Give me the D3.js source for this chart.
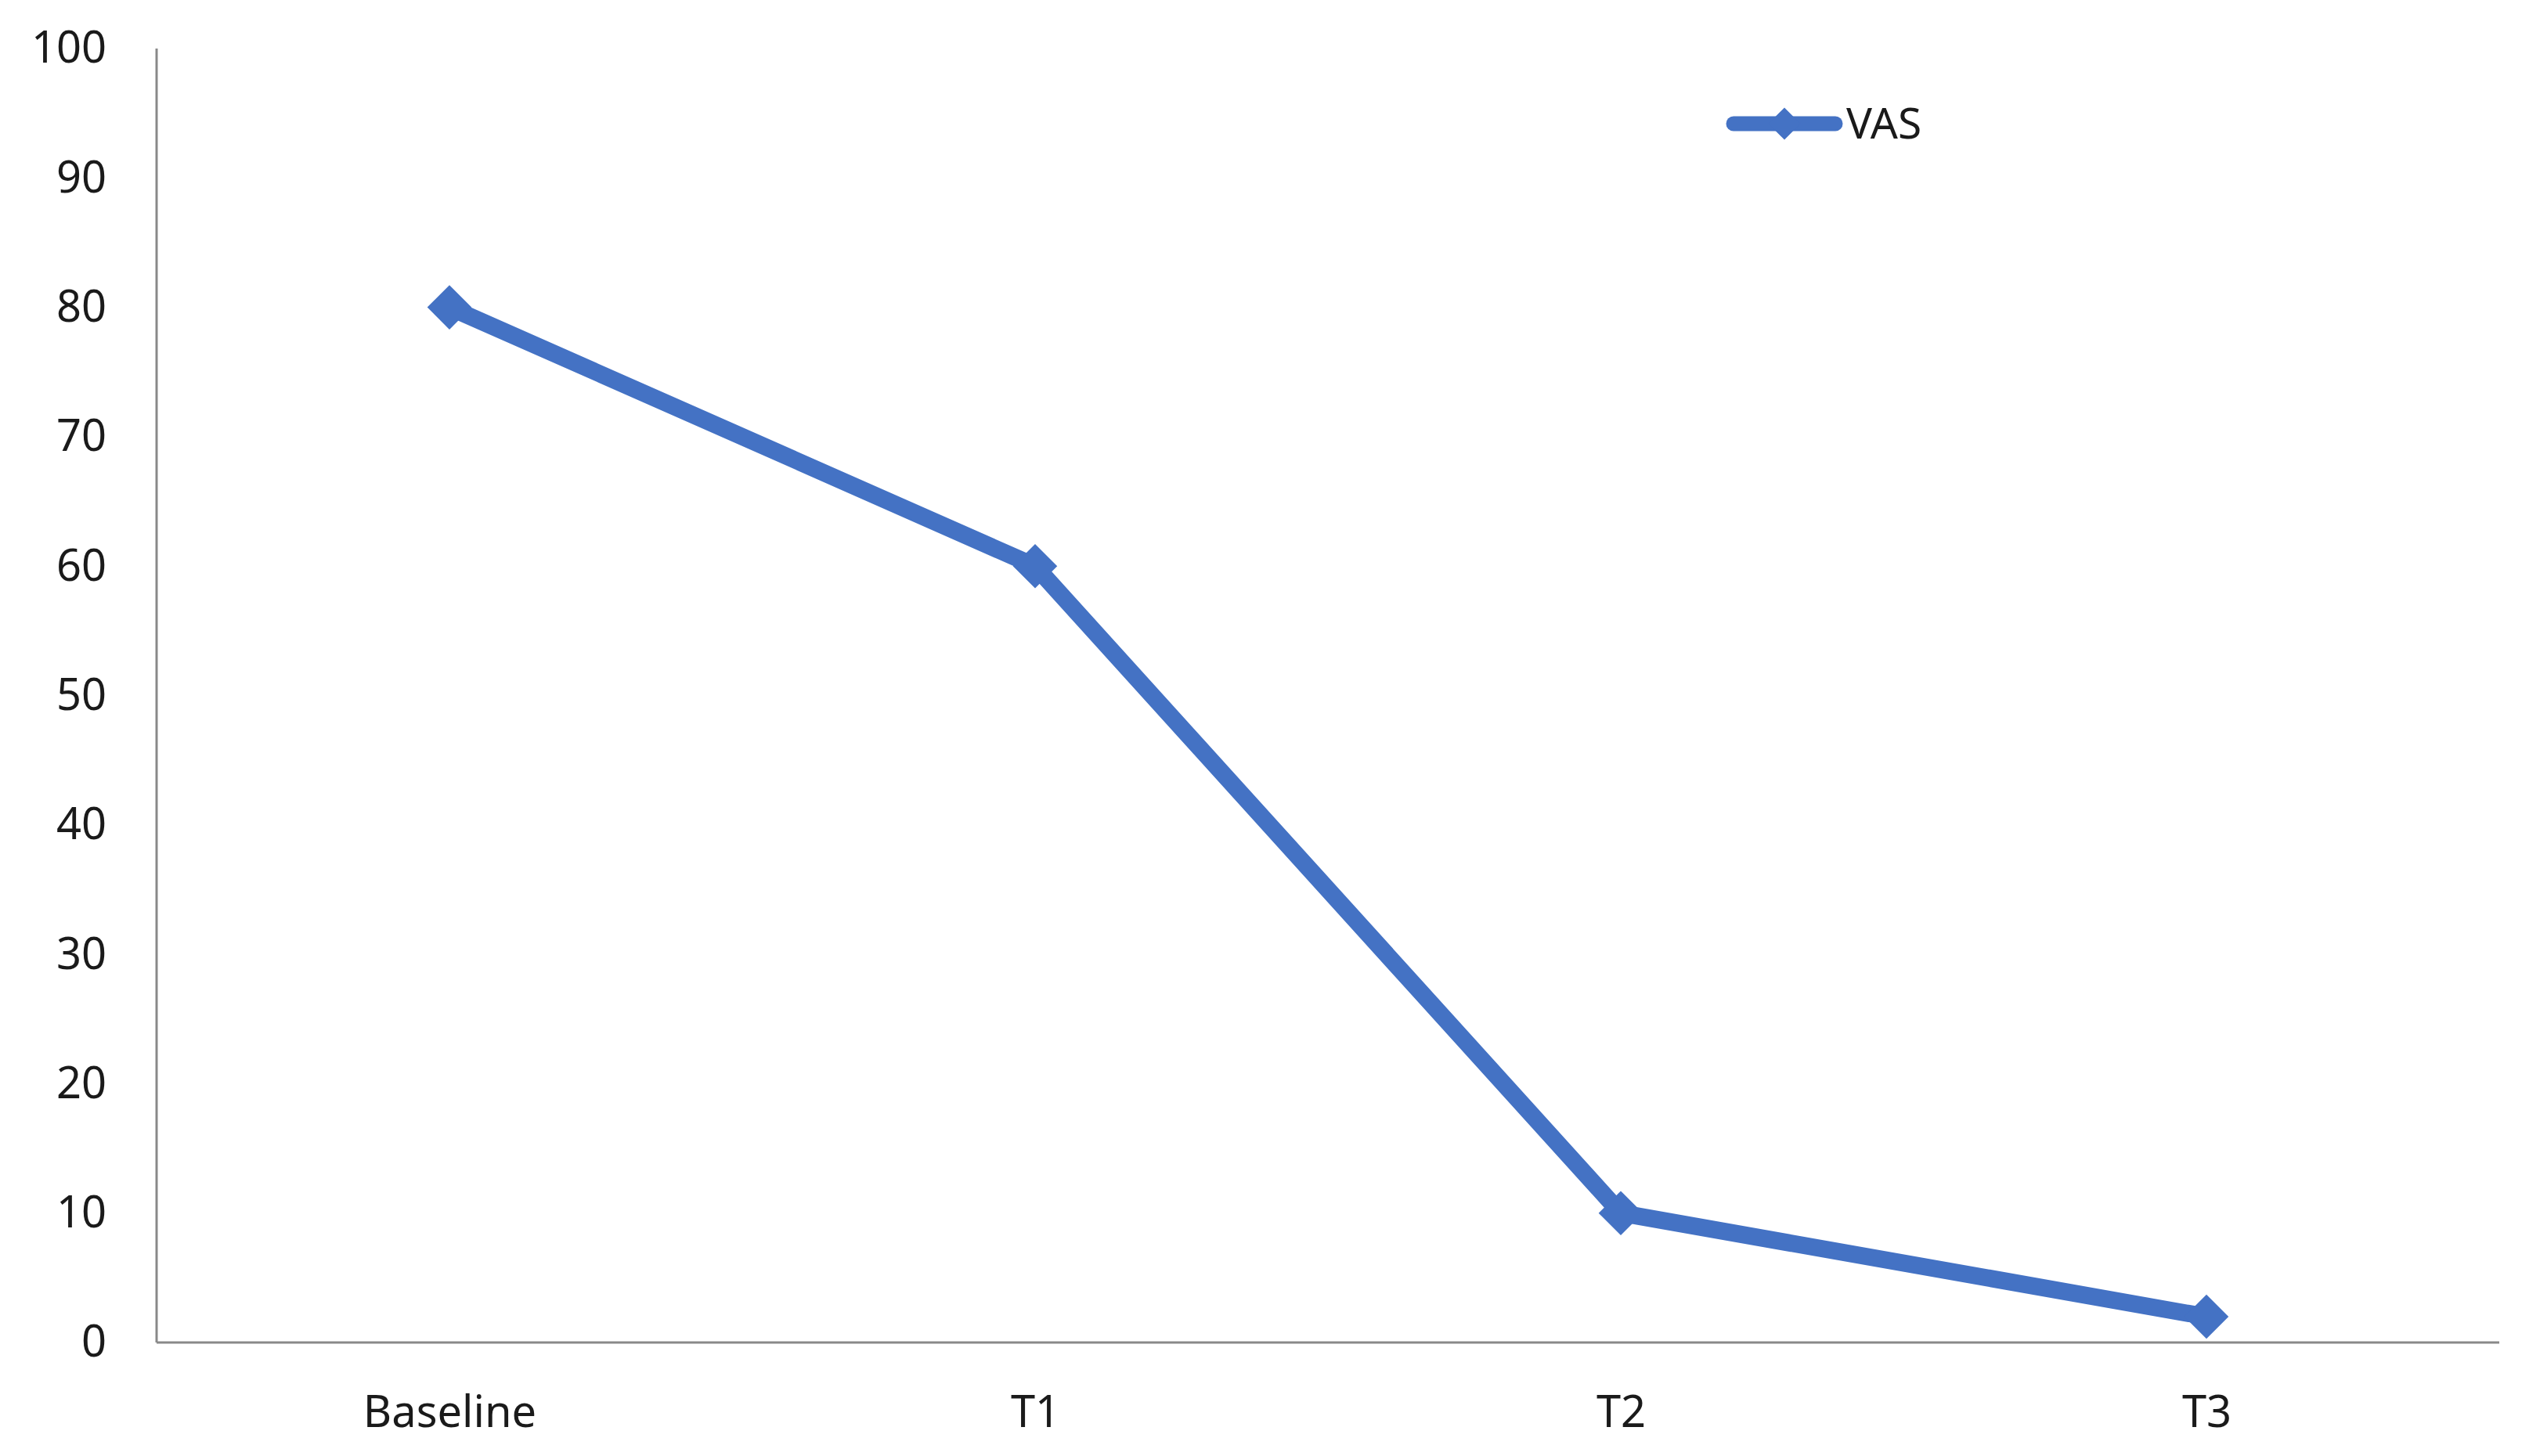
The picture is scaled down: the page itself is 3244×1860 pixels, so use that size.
<!DOCTYPE html>
<html>
<head>
<meta charset="utf-8">
<script src="https://cdn.jsdelivr.net/npm/d3@7"></script>
<style>
  body { margin: 0; background: #fff; }
  .axis path { stroke: #898989; stroke-width: 3; }
  .axis text { font-family: "Noto Sans", "Open Sans", sans-serif; font-size: 56px; fill: #1a1a1a; }
</style>
</head>
<body>
<div id="chart"></div>
<script>

// data
var categories = ["Baseline", "T1", "T2", "T3"];
var vasValues = [80, 60, 10, 2];
var yTicks = [0, 10, 20, 30, 40, 50, 60, 70, 80, 90, 100];
var seriesName = "VAS";

// Dimensions and margins
var margin = {top: 62, right: 52, bottom: 145, left: 200},
    width = 3244 - margin.left - margin.right,
    height = 1860 - margin.top - margin.bottom;

var blue = "#4472C4";

var svg = d3.select("#chart")
  .append("svg")
    .attr("width", 3244)
    .attr("height", 1860)
  .append("g")
    .attr("transform", "translate(" + margin.left + "," + margin.top + ")");

// set the ranges
var x = d3.scalePoint().domain(categories).range([0, width]).padding(0.5);
var y = d3.scaleLinear().domain([0, 100]).range([height, 0]);

// Y axis
svg.append("g")
    .attr("class", "axis")
    .call(d3.axisLeft(y).tickValues(yTicks).tickSize(0).tickPadding(64))
    .call(function(g) { g.select(".domain").attr("d", "M0," + height + "V0"); });

// X axis
svg.append("g")
    .attr("class", "axis")
    .attr("transform", "translate(0," + height + ")")
    .call(d3.axisBottom(x).tickSize(0).tickPadding(68))
    .call(function(g) { g.select(".domain").attr("d", "M0,0H" + width); });

// line
var line = d3.line()
    .x(function(d, i) { return x(categories[i]); })
    .y(function(d) { return y(d); });

svg.append("path")
    .datum(vasValues)
    .attr("fill", "none")
    .attr("stroke", blue)
    .attr("stroke-width", 22)
    .attr("stroke-linejoin", "miter")
    .attr("d", line);

// diamond markers
var diamond = d3.symbol().type(d3.symbolSquare).size(1600);
svg.selectAll("path.marker")
    .data(vasValues)
    .enter()
    .append("path")
      .attr("class", "marker")
      .attr("d", diamond)
      .attr("fill", blue)
      .attr("transform", function(d, i) {
        return "translate(" + x(categories[i]) + "," + y(d) + ") rotate(45)";
      });

// legend
var legend = svg.append("g")
    .attr("transform", "translate(" + (2214 - margin.left) + "," + (158 - margin.top) + ")");
legend.append("line")
    .attr("x1", 0).attr("x2", 130)
    .attr("y1", 0).attr("y2", 0)
    .attr("stroke", blue)
    .attr("stroke-width", 19)
    .attr("stroke-linecap", "round");
legend.append("path")
    .attr("d", d3.symbol().type(d3.symbolSquare).size(850))
    .attr("fill", blue)
    .attr("transform", "translate(65,0) rotate(45)");
legend.append("text")
    .attr("x", 144)
    .attr("y", 0)
    .attr("dy", "0.35em")
    .style("font-family", "\"Noto Sans\", \"Open Sans\", sans-serif")
    .style("font-size", "55px")
    .style("fill", "#1a1a1a")
    .text(seriesName);

</script>
</body>
</html>
